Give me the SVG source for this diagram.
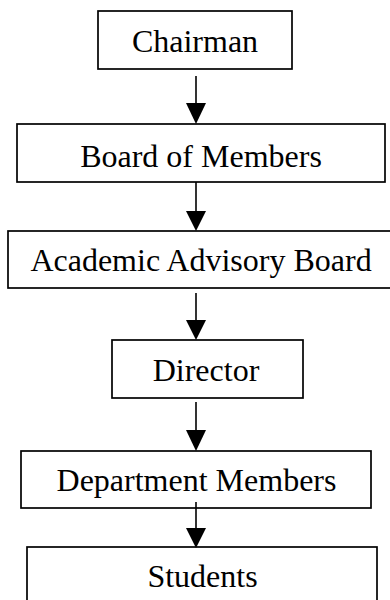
<svg xmlns="http://www.w3.org/2000/svg" width="390" height="600" viewBox="0 0 390 600">
<style>
.box{fill:#fff;stroke:#000;stroke-width:1.7}
.lbl{font-family:"Liberation Serif","Times New Roman",serif;font-size:32px;fill:#000;text-anchor:middle}
.conn line{stroke:#000;stroke-width:1.6}
.conn polygon{fill:#000}
</style>
<rect width="390" height="600" fill="#fff"/>
<g id="chairman"><rect class="box" x="98" y="11" width="194" height="58"/><text class="lbl" x="195" y="52">Chairman</text></g>
<g id="board"><rect class="box" x="17" y="124" width="368" height="58"/><text class="lbl" x="201" y="167">Board of Members</text></g>
<g id="advisory"><rect class="box" x="8" y="231" width="384" height="57"/><text class="lbl" x="201" y="271">Academic Advisory Board</text></g>
<g id="director"><rect class="box" x="112" y="340" width="191" height="58"/><text class="lbl" x="206" y="381">Director</text></g>
<g id="department"><rect class="box" x="21" y="451" width="350" height="57"/><text class="lbl" x="196.5" y="491">Department Members</text></g>
<g id="students"><rect class="box" x="27" y="547" width="350" height="60"/><text class="lbl" x="202.5" y="587">Students</text></g>
<g id="connectors" class="conn">
<line x1="196" y1="76" x2="196" y2="104"/><polygon points="186,103 206,103 196,124"/>
<line x1="196" y1="182" x2="196" y2="212"/><polygon points="186,211 206,211 196,231"/>
<line x1="196" y1="293" x2="196" y2="321"/><polygon points="186,320 206,320 196,340"/>
<line x1="196" y1="402" x2="196" y2="431"/><polygon points="186,430 206,430 196,451"/>
<line x1="196" y1="502" x2="196" y2="529"/><polygon points="186,528 206,528 196,548"/>
</g>
</svg>
